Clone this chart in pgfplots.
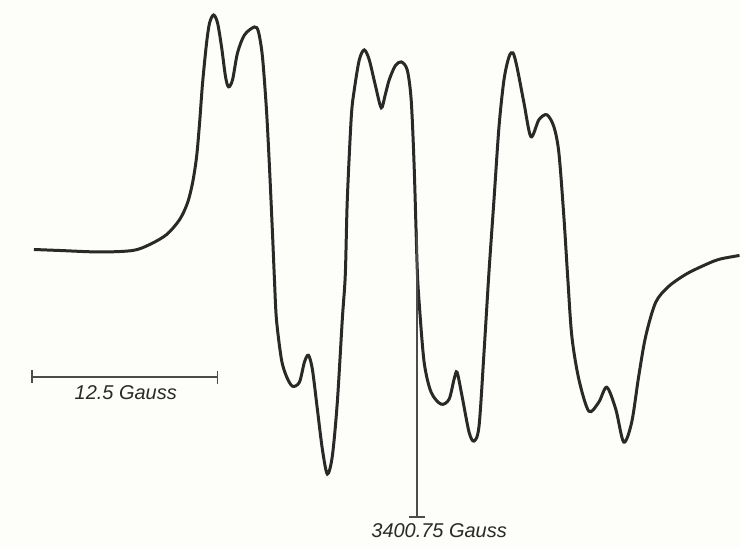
\documentclass[border=0pt]{standalone}
\usepackage{pgfplots}
\pgfplotsset{compat=1.18}
\usepackage{fontspec}
\setmainfont{Liberation Sans}
\definecolor{ink}{rgb}{0.16,0.16,0.16}
\definecolor{barink}{rgb}{0.30,0.30,0.30}
\definecolor{paper}{rgb}{0.992,0.992,0.975}
\begin{document}
\begin{tikzpicture}
\begin{axis}[
  scale only axis, width=741pt, height=548pt,
  xmin=0, xmax=741, ymin=0, ymax=548, y dir=reverse,
  hide axis, clip=false,
]
\fill[paper] (rel axis cs:0,0) rectangle (rel axis cs:1,1);
\addplot[ink, line width=3pt, smooth, tension=0.5] coordinates {
(34,250) (60,251) (100,252.5) (133,251) (150,245) (167,235) (180,220) (188,203)
(193,183) (197,157) (200,123) (203,83) (207,43) (210,23) (214,15) (218,23)
(222,47) (226,77) (229,87) (233,80) (238,53) (245,35) (255,27) (259,32)
(263,57) (267,110) (270,167) (273,233) (275,280) (277,320) (282,360) (287,377)
(293,387) (300,383) (305,363) (309,356) (313,370) (318,410) (323,450) (328,475)
(333,457) (338,403) (343,320) (346,275) (348,200) (352,117) (355,90) (360,60)
(365,50) (370,60) (376,85) (382,108) (386,95) (390,80) (396,66) (402,62)
(408,70) (412,100) (415,167) (418,267) (420,303) (425,363) (432,393) (442,405)
(450,400) (455,380) (458,373) (463,397) (470,433) (475,442) (480,427) (485,353)
(490,272) (495,200) (500,127) (505,80) (510,57) (514,53) (518,67) (525,103)
(532,137) (540,120) (548,115) (555,127) (560,153) (565,217) (569,280) (573,337)
(580,380) (590,412) (600,403) (608,388) (617,410) (625,443) (633,423) (640,377)
(647,337) (657,303) (670,287) (687,275) (703,267) (720,260) (741,256)
};
% scale bar
\addplot[barink, line width=1.8pt] coordinates {(32,378) (218,378)};
\addplot[barink, line width=1.5pt] coordinates {(32,371) (32,384)};
\addplot[barink, line width=1.5pt] coordinates {(218,372) (218,385)};
% field marker
\addplot[barink, line width=1.5pt] coordinates {(418,232) (418,518)};
\addplot[barink, line width=1.5pt] coordinates {(410,518) (426,518)};
\node[ink, font=\fontsize{20}{22}\selectfont\itshape] at (axis cs:126,393) {12.5 Gauss};
\node[ink, font=\fontsize{20}{22}\selectfont\itshape] at (axis cs:440,532) {3400.75 Gauss};
\end{axis}
\end{tikzpicture}
\end{document}
